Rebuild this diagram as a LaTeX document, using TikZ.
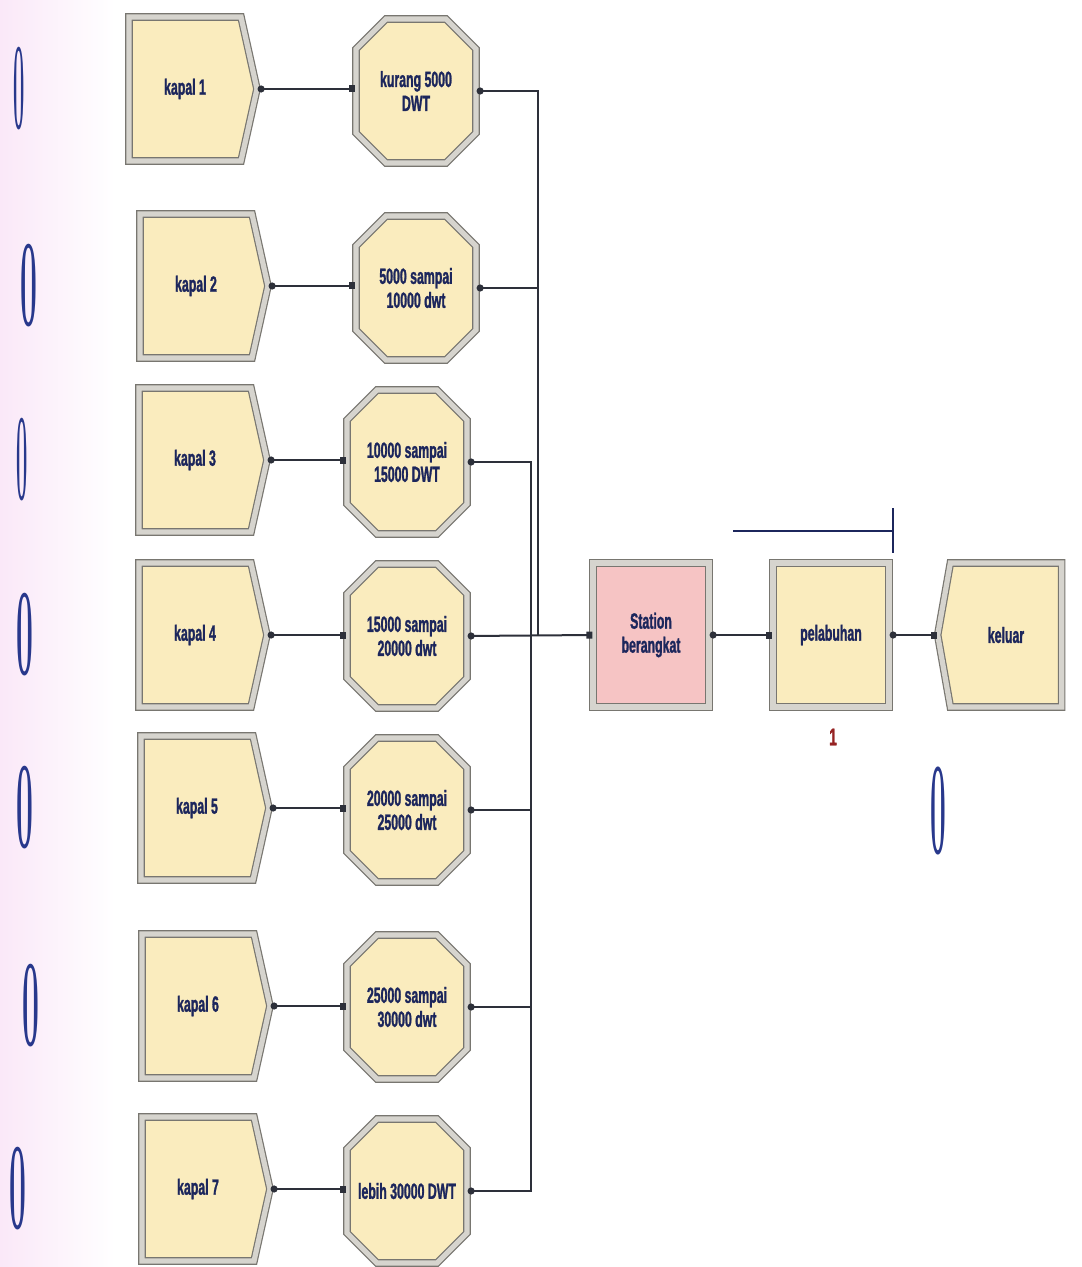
\documentclass[tikz,border=0pt]{standalone}
\usepackage{fontspec}
\usepackage{graphicx}
\newfontfamily\arena{Liberation Sans}[FakeStretch=0.56, BoldFeatures={FakeBold=1.2}]
\usetikzlibrary{arrows.meta,shapes.misc,shapes.symbols}
\definecolor{modfill}{RGB}{250,236,190}
\definecolor{stnfill}{RGB}{246,196,196}
\definecolor{bevel}{RGB}{214,212,206}
\definecolor{frame}{RGB}{120,118,112}
\definecolor{navy}{RGB}{28,38,92}
\definecolor{cntblue}{RGB}{40,56,140}
\definecolor{wire}{RGB}{45,48,58}
\definecolor{busyred}{RGB}{150,35,35}
\definecolor{bandpink}{RGB}{250,232,248}

\begin{document}
\begin{tikzpicture}[
  x=0.5pt, y=-0.5pt,
  module/.style={draw=frame, line width=0.6pt, double=bevel, double distance=2.6pt, fill=modfill, text=navy, inner sep=0pt, align=center, font=\arena\bfseries\fontsize{11}{12}\selectfont, minimum height=72pt},
  createbox/.style={module, signal, signal to=east, signal pointer angle=155, minimum width=64pt},
  decidebox/.style={module, chamfered rectangle, chamfered rectangle xsep=4pt, chamfered rectangle ysep=11pt, minimum width=60pt},
  stationbox/.style={module, rectangle, fill=stnfill, minimum width=58pt},
  processbox/.style={module, rectangle, minimum width=58pt},
  disposebox/.style={module, signal, signal to=west, signal pointer angle=160, minimum width=62pt},
  counter/.style={text=cntblue, inner sep=0pt, font=\fontsize{20}{20}\selectfont\bfseries},
  busyval/.style={text=busyred, inner sep=0pt, font=\arena\bfseries\fontsize{12}{12}\selectfont},
  link/.style={draw=wire, line width=1pt, {Circle[length=3.5pt]}-{Square[length=3pt,width=3.5pt]}},
  busline/.style={draw=wire, line width=1pt},
  queueline/.style={draw=navy, line width=1.2pt}
]
\fill[white] (0,0) rectangle (1081,1267);
\shade[left color=bandpink, right color=white] (0,0) rectangle (115,1267);
\useasboundingbox (0,0) rectangle (1081,1267);

\node[createbox] (k1) at (185,89) {kapal 1};
\node[createbox] (k2) at (196,286) {kapal 2};
\node[createbox] (k3) at (195,460) {kapal 3};
\node[createbox] (k4) at (195,635) {kapal 4};
\node[createbox] (k5) at (197,808) {kapal 5};
\node[createbox] (k6) at (198,1006) {kapal 6};
\node[createbox] (k7) at (198,1189) {kapal 7};

\node[decidebox] (d1) at (416,91) {kurang 5000\\DWT};
\node[decidebox] (d2) at (416,288) {5000 sampai\\10000 dwt};
\node[decidebox] (d3) at (407,462) {10000 sampai\\15000 DWT};
\node[decidebox] (d4) at (407,636) {15000 sampai\\20000 dwt};
\node[decidebox] (d5) at (407,810) {20000 sampai\\25000 dwt};
\node[decidebox] (d6) at (407,1007) {25000 sampai\\30000 dwt};
\node[decidebox] (d7) at (407,1191) {lebih 30000 DWT};

\node[stationbox] (stn) at (651,635) {Station\\berangkat};
\node[processbox] (pel) at (831,635) {pelabuhan};
\node[disposebox] (out) at (1006,635) {keluar};

\node[counter] (c1) at (19,89) {\scalebox{0.5}[3.1]{0}};
\node[counter] (c2) at (29,286) {\scalebox{0.75}[3.1]{0}};
\node[counter] (c3) at (22,460) {\scalebox{0.5}[3.1]{0}};
\node[counter] (c4) at (25,635) {\scalebox{0.75}[3.1]{0}};
\node[counter] (c5) at (25,808) {\scalebox{0.75}[3.1]{0}};
\node[counter] (c6) at (31,1006) {\scalebox{0.75}[3.1]{0}};
\node[counter] (c7) at (18,1189) {\scalebox{0.75}[3.1]{0}};
\node[counter] (cout) at (938,811) {\scalebox{0.7}[3.3]{0}};
\node[busyval] (pbusy) at (833,737) {1};

\coordinate (busA) at (538,635);
\coordinate (busB) at (531,635);
\coordinate (qL) at (733,531);
\coordinate (qR) at (893,531);
\coordinate (qT) at (893,508);
\coordinate (qB) at (893,553);

\draw[link] (k1.east) -- (k1.east -| d1.west);
\draw[link] (k2.east) -- (k2.east -| d2.west);
\draw[link] (k3.east) -- (k3.east -| d3.west);
\draw[link] (k4.east) -- (k4.east -| d4.west);
\draw[link] (k5.east) -- (k5.east -| d5.west);
\draw[link] (k6.east) -- (k6.east -| d6.west);
\draw[link] (k7.east) -- (k7.east -| d7.west);

\draw[busline, {Circle[length=3.5pt]}-] (d1.east) -| (busA);
\draw[busline, {Circle[length=3.5pt]}-] (d2.east) -| (busA);
\draw[busline, {Circle[length=3.5pt]}-] (d3.east) -| (busB);
\draw[busline, {Circle[length=3.5pt]}-] (d5.east) -| (busB);
\draw[busline, {Circle[length=3.5pt]}-] (d6.east) -| (busB);
\draw[busline, {Circle[length=3.5pt]}-] (d7.east) -| (busB);
\draw[link] (d4.east) -- (stn.west);
\draw[link] (stn.east) -- (pel.west);
\draw[link] (pel.east) -- (out.west);

\draw[queueline] (qL) -- (qR);
\draw[queueline] (qT) -- (qB);
\end{tikzpicture}
\end{document}
